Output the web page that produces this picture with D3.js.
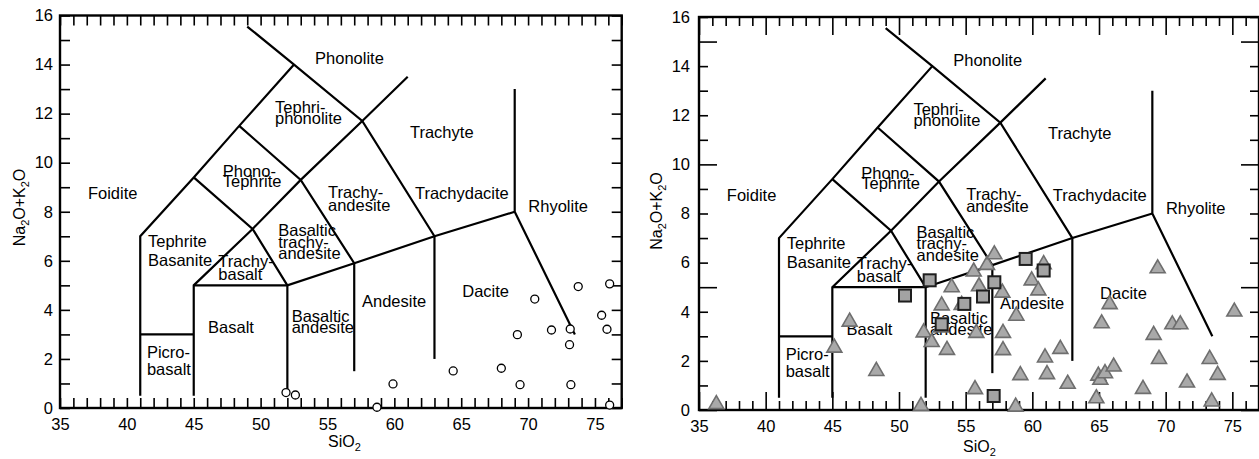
<!DOCTYPE html>
<html>
<head>
<meta charset="utf-8">
<script src="https://cdn.jsdelivr.net/npm/d3@7"></script>
<style>
  body { margin: 0; background: #fff; }
  svg text { font-family: "Liberation Sans", Arial, sans-serif; }
</style>
</head>
<body>
<svg id="chart" width="1259" height="459"></svg>
<script>
// TAS field boundaries (SiO2, Na2O+K2O)
var fieldLines = [
  [[41, 0.5], [41, 7], [45, 9.4], [48.4, 11.5], [52.5, 14]],
  [[49, 15.55], [52.5, 14], [57.6, 11.7], [63, 7]],
  [[45, 0.5], [45, 5], [49.4, 7.3], [53, 9.3], [57.6, 11.7], [61, 13.5]],
  [[45, 9.4], [49.4, 7.3], [52, 5]],
  [[48.4, 11.5], [53, 9.3], [57, 5.9]],
  [[41, 3], [45, 3]],
  [[45, 5], [52, 5], [57, 5.9], [63, 7], [69, 8]],
  [[52, 0.5], [52, 5]],
  [[57, 1.5], [57, 5.9]],
  [[63, 2], [63, 7]],
  [[69, 13], [69, 8], [73.5, 3]]
];

// field names: text lines, anchor (SiO2, alkali) of first baseline, gap between lines
var fieldNames = [
  { lines: ["Phonolite"], x: 54.07, y: 14.02, gap: 0 },
  { lines: ["Tephri-", "phonolite"], x: 51.08, y: 12.03, gap: 11.5 },
  { lines: ["Trachyte"], x: 61.17, y: 11.02, gap: 0 },
  { lines: ["Phono-", "Tephrite"], x: 47.17, y: 9.4, gap: 10 },
  { lines: ["Foidite"], x: 37.09, y: 8.52, gap: 0 },
  { lines: ["Trachy-", "andesite"], x: 55.04, y: 8.56, gap: 12.5 },
  { lines: ["Trachydacite"], x: 61.54, y: 8.52, gap: 0 },
  { lines: ["Rhyolite"], x: 70.02, y: 8.0, gap: 0 },
  { lines: ["Tephrite", "Basanite"], x: 41.58, y: 6.55, gap: 18.4 },
  { lines: ["Trachy-", "basalt"], x: 46.84, y: 5.76, gap: 13.3 },
  { lines: ["Basalt"], x: 46.07, y: 3.05, gap: 0 },
  { lines: ["Picro-", "basalt"], x: 41.5, y: 2.03, gap: 16.7 },
  { lines: ["Basaltic", "trachy-", "andesite"], x: 51.32, y: 7.01, gap: 11.6 },
  { lines: ["Basaltic", "andesite"], x: 52.32, y: 3.52, gap: 11.6 },
  { lines: ["Andesite"], x: 57.58, y: 4.1, gap: 0 },
  { lines: ["Dacite"], x: 65.08, y: 4.51, gap: 0 }
];

// left diagram: open circles
var circleSiO2 = [51.9, 52.6, 58.7, 59.9, 64.4, 68.0, 69.4, 73.2, 69.2, 70.5, 71.75, 73.15, 73.1, 73.75, 76.1, 75.5, 75.9, 76.1];
var circleAlk  = [0.63, 0.53, 0.03, 0.98, 1.51, 1.62, 0.95, 0.95, 2.99, 4.44, 3.18, 3.22, 2.58, 4.95, 5.06, 3.78, 3.21, 0.12];

// right diagram: grey triangles
var triSiO2 = [36.3, 45.15, 46.3, 48.3, 51.65, 51.85, 52.45, 53.2, 53.15, 53.6, 53.95, 54.7, 55.6, 55.8, 56.0, 56.6, 57.15, 57.75, 57.8, 57.8,
               55.7, 58.75, 58.8, 59.1, 59.95, 60.45, 60.85, 60.95, 61.1, 62.1, 62.65, 64.8, 64.95, 65.1, 65.2, 65.45, 65.8, 66.1, 68.3,
               69.1, 69.4, 69.5, 70.5, 71.1, 71.6, 73.3, 73.45, 73.9, 75.15];
var triAlk  = [0.3, 2.6, 3.66, 1.65, 0.23, 3.22, 2.83, 4.32, 3.42, 2.51, 5.06, 4.34, 5.7, 3.2, 5.1, 5.97, 6.4, 4.84, 3.2, 2.5,
               0.91, 0.2, 3.9, 1.48, 5.34, 4.93, 6.0, 2.2, 1.52, 2.55, 1.13, 0.54, 1.46, 1.29, 3.59, 1.56, 4.37, 1.83, 0.92,
               3.12, 5.83, 2.14, 3.55, 3.55, 1.18, 2.14, 0.41, 1.49, 4.07];

// right diagram: grey squares
var sqSiO2 = [50.45, 52.3, 53.2, 54.9, 56.3, 57.15, 57.1, 59.5, 60.85];
var sqAlk  = [4.66, 5.28, 3.49, 4.32, 4.62, 5.2, 0.57, 6.15, 5.68];

var xTicks = d3.range(35, 78);
var yTicks = d3.range(0, 17);

var svg = d3.select("#chart");
var FONT = "'Liberation Sans', Arial, sans-serif";

function drawPanel(cfg) {
    var x = d3.scaleLinear().domain([35, 77]).range([cfg.left, cfg.right]);
    var y = d3.scaleLinear().domain([0, 16]).range([cfg.bottom, cfg.top]);
    var g = svg.append("g");

    var line = d3.line()
        .x(function(d) { return x(d[0]); })
        .y(function(d) { return y(d[1]); });

    g.selectAll("path.field")
        .data(fieldLines)
        .enter().append("path")
        .attr("class", "field")
        .attr("d", line)
        .attr("fill", "none")
        .attr("stroke", "#000")
        .attr("stroke-width", 2.2)
        .attr("stroke-linejoin", "miter");

    var lab = g.selectAll("text.field")
        .data(fieldNames)
        .enter().append("text")
        .attr("class", "field")
        .attr("font-size", 16.5)
        .attr("fill", "#000")
        .attr("x", function(d) { return x(d.x); })
        .attr("y", function(d) { return y(d.y); });
    lab.each(function(d) {
        var t = d3.select(this);
        d.lines.forEach(function(s, i) {
            t.append("tspan")
                .attr("x", x(d.x))
                .attr("dy", i === 0 ? 0 : d.gap)
                .text(s);
        });
    });

    // axes, all ticks pointing inwards
    function styleAxis(a) {
        a.attr("font-size", 16.5).attr("font-family", FONT);
        a.select(".domain").remove();
        a.selectAll(".tick line").attr("stroke-width", 1.6);
        a.selectAll(".tick text").attr("fill", "#000");
    }
    var bottom = g.append("g")
        .attr("transform", "translate(0," + cfg.bottom + ")")
        .call(d3.axisBottom(x).tickValues(xTicks).tickSize(-cfg.minor).tickPadding(10)
            .tickFormat(function(d) { return d % 5 === 0 && d < 77 ? d : ""; }))
        .call(styleAxis);
    bottom.selectAll(".tick line").attr("y2", function(d) { return d % 5 === 0 ? -cfg.major : -cfg.minor; });

    var top = g.append("g")
        .attr("transform", "translate(0," + cfg.top + ")")
        .call(d3.axisTop(x).tickValues(xTicks).tickSize(-cfg.minor).tickFormat(""))
        .call(styleAxis);
    top.selectAll(".tick line").attr("y2", function(d) { return d % 5 === 0 ? cfg.major : cfg.minor; });

    var left = g.append("g")
        .attr("transform", "translate(" + cfg.left + ",0)")
        .call(d3.axisLeft(y).tickValues(yTicks).tickSize(-cfg.minor).tickPadding(cfg.padY)
            .tickFormat(function(d) { return d % 2 === 0 ? d : ""; }))
        .call(styleAxis);
    left.selectAll(".tick line").attr("x2", function(d) { return d % 5 === 0 ? cfg.major : cfg.minor; });

    var right = g.append("g")
        .attr("transform", "translate(" + cfg.right + ",0)")
        .call(d3.axisRight(y).tickValues(yTicks).tickSize(-cfg.minor).tickFormat(""))
        .call(styleAxis);
    right.selectAll(".tick line").attr("x2", function(d) { return d % 5 === 0 ? -cfg.major : -cfg.minor; });

    g.append("rect")
        .attr("x", cfg.left).attr("y", cfg.top)
        .attr("width", cfg.right - cfg.left).attr("height", cfg.bottom - cfg.top)
        .attr("fill", "none").attr("stroke", "#000").attr("stroke-width", 2.4);

    // axis titles
    var xt = g.append("text")
        .attr("x", cfg.xTitle[0]).attr("y", cfg.xTitle[1])
        .attr("font-size", 16);
    xt.append("tspan").text("SiO");
    xt.append("tspan").attr("dy", 4).attr("font-size", 11).text("2");

    var yt = g.append("text")
        .attr("transform", "translate(" + cfg.yTitle[0] + "," + cfg.yTitle[1] + ") rotate(-90)")
        .attr("text-anchor", "middle")
        .attr("font-size", 16);
    yt.append("tspan").text("Na");
    yt.append("tspan").attr("dy", 4).attr("font-size", 11).text("2");
    yt.append("tspan").attr("dy", -4).text("O+K");
    yt.append("tspan").attr("dy", 4).attr("font-size", 11).text("2");
    yt.append("tspan").attr("dy", -4).text("O");

    return { g: g, x: x, y: y };
}

var p1 = drawPanel({ left: 60, right: 621.7, top: 15.5, bottom: 408, minor: 10, major: 10, padY: 7,
                     xTitle: [328, 447], yTitle: [25, 207.5] });
var p2 = drawPanel({ left: 699, right: 1259, top: 17, bottom: 410, minor: 9, major: 18, padY: 9,
                     xTitle: [963, 452], yTitle: [661.5, 211] });

// left: open circles
p1.g.selectAll("circle.sample")
    .data(d3.zip(circleSiO2, circleAlk))
    .enter().append("circle")
    .attr("class", "sample")
    .attr("cx", function(d) { return p1.x(d[0]); })
    .attr("cy", function(d) { return p1.y(d[1]); })
    .attr("r", 4)
    .attr("fill", "#fff")
    .attr("stroke", "#000")
    .attr("stroke-width", 1.3);

// right: triangles then squares
p2.g.selectAll("path.tri")
    .data(d3.zip(triSiO2, triAlk))
    .enter().append("path")
    .attr("class", "tri")
    .attr("d", "M0,-7L7.5,6L-7.5,6Z")
    .attr("transform", function(d) { return "translate(" + p2.x(d[0]) + "," + p2.y(d[1]) + ")"; })
    .attr("fill", "#a9a9a9")
    .attr("stroke", "#6e6e6e")
    .attr("stroke-width", 1.6);

p2.g.selectAll("rect.sq")
    .data(d3.zip(sqSiO2, sqAlk))
    .enter().append("rect")
    .attr("class", "sq")
    .attr("x", function(d) { return p2.x(d[0]) - 6; })
    .attr("y", function(d) { return p2.y(d[1]) - 6; })
    .attr("width", 12).attr("height", 12)
    .attr("fill", "#a3a3a3")
    .attr("stroke", "#1e1e1e")
    .attr("stroke-width", 2);
</script>
</body>
</html>
